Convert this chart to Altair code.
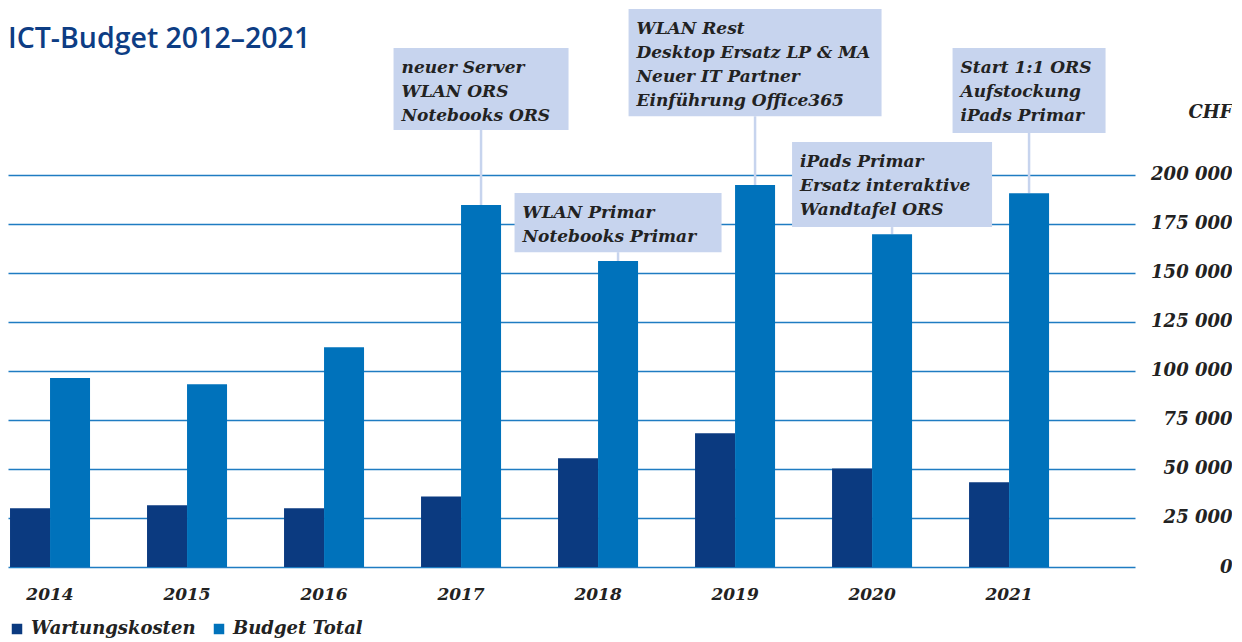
import altair as alt
import pandas as pd

# ---- data ----
years = ["2014", "2015", "2016", "2017", "2018", "2019", "2020", "2021"]
wartung = [30000, 31500, 30000, 36000, 55400, 68200, 50200, 43200]
budget = [96300, 93200, 112100, 184500, 156000, 194700, 169700, 190600]
series = ["Wartungskosten", "Budget Total"]
y_ticks = [0, 25000, 50000, 75000, 100000, 125000, 150000, 175000, 200000]

anno_years = ["2017", "2018", "2019", "2020", "2021"]
anno_lines = [
    ["neuer Server", "WLAN ORS", "Notebooks ORS"],
    ["WLAN Primar", "Notebooks Primar"],
    ["WLAN Rest", "Desktop Ersatz LP & MA", "Neuer IT Partner", "Einführung Office365"],
    ["iPads Primar", "Ersatz interaktive", "Wandtafel ORS"],
    ["Start 1:1 ORS", "Aufstockung", "iPads Primar"],
]
title_text = "ICT-Budget 2012\u20132021"

# ---- layout / style ----
anno_top = [264600, 190700, 284500, 216700, 264600]     # box top level (CHF)
anno_bottom = [222800, 160500, 229800, 173300, 221300]  # box bottom level (CHF)
anno_width = [175, 207, 253, 200, 153]                  # box width (px)
colors = ["#0b3a80", "#0072bb"]
box_color = "#c7d4ee"
text_color = "#222222"
FONT = "DejaVu Serif"
W, H = 1127, 559

budget_map = dict(zip(years, budget))

df = pd.DataFrame(
    [{"Jahr": y, "Serie": series[0], "Wert": w} for y, w in zip(years, wartung)]
    + [{"Jahr": y, "Serie": series[1], "Wert": b} for y, b in zip(years, budget)]
)

xscale = alt.Scale(paddingInner=0.416, paddingOuter=0.321, align=0.023)
yscale = alt.Scale(domain=[0, 285000], nice=False)

xaxis = alt.Axis(
    title=None, domain=False, ticks=False, tickSize=0, labelAngle=0,
    labelFont=FONT, labelFontSize=17, labelFontStyle="italic", labelFontWeight="bold",
    labelColor=text_color, labelPadding=19, grid=False,
)
yaxis = alt.Axis(
    orient="right", values=y_ticks, domain=False, ticks=False, tickSize=0,
    grid=True, gridColor="#1f7cc2", gridWidth=1.6,
    labelFont=FONT, labelFontSize=18, labelFontStyle="italic", labelFontWeight="bold",
    labelColor=text_color, labelAlign="right", labelPadding=97,
    labelExpr="replace(format(datum.value, ',d'), ',', ' ')",
    title="CHF", titleAngle=0, titleAlign="right", titleBaseline="alphabetic",
    titleX=97, titleY=109, titleFont=FONT, titleFontSize=18, titleFontStyle="italic",
    titleFontWeight="bold", titleColor=text_color,
)

X = lambda f: alt.X(f, sort=years, scale=xscale, axis=xaxis)

bars = alt.Chart(df).mark_bar().encode(
    x=X("Jahr:N"),
    xOffset=alt.XOffset("Serie:N", sort=series, scale=alt.Scale(domain=series)),
    y=alt.Y("Wert:Q", scale=yscale, axis=yaxis),
    color=alt.Color(
        "Serie:N", sort=series,
        scale=alt.Scale(domain=series, range=colors),
        legend=alt.Legend(
            orient="none", legendX=0, legendY=612, direction="horizontal", title=None,
            symbolType="square", symbolSize=110, symbolStrokeWidth=0,
            labelFont=FONT, labelFontSize=18, labelFontStyle="italic",
            labelFontWeight="bold", labelColor=text_color, columnPadding=14,
            labelOffset=5, labelLimit=400,
        ),
    ),
)

layers = []
for yr, lines, top, bot, w in zip(anno_years, anno_lines, anno_top, anno_bottom, anno_width):
    d = pd.DataFrame([{"Jahr": yr, "top": top, "bottom": bot,
                       "Wert": budget_map[yr], "txt": "\n".join(lines)}])
    base = alt.Chart(d)
    rule = base.mark_rule(color=box_color, strokeWidth=2.5, xOffset=20).encode(
        x=X("Jahr:N"), y=alt.Y("Wert:Q", scale=yscale, axis=yaxis), y2="bottom:Q"
    )
    box = base.mark_bar(color=box_color, width=w, xOffset=20).encode(
        x=X("Jahr:N"), y=alt.Y("top:Q", scale=yscale, axis=yaxis), y2="bottom:Q"
    )
    txt = base.mark_text(
        align="left", baseline="alphabetic", lineBreak="\n", lineHeight=24,
        font=FONT, fontSize=17, fontStyle="italic", fontWeight="bold",
        color=text_color, xOffset=20 - w / 2 + 8, dy=25,
    ).encode(x=X("Jahr:N"), y=alt.Y("top:Q", scale=yscale, axis=yaxis), text="txt:N")
    layers.append((rule, box, txt))

title = alt.Chart(pd.DataFrame({"t": [title_text]})).mark_text(
    align="left", baseline="alphabetic", font="Open Sans", fontSize=28.5,
    fontWeight=600, color="#0d3d84",
).encode(x=alt.value(0), y=alt.value(40), text="t:N")

all_layers = [l[0] for l in layers] + [l[1] for l in layers] + [l[2] for l in layers] + [bars, title]

chart = alt.layer(*all_layers).properties(
    width=W, height=H, padding={"left": 0, "top": 0, "right": 0, "bottom": 0},
    background="white",
).configure_view(stroke=None, strokeWidth=0)

chart.save("out.html", embed_options={"renderer": "svg", "actions": False})
